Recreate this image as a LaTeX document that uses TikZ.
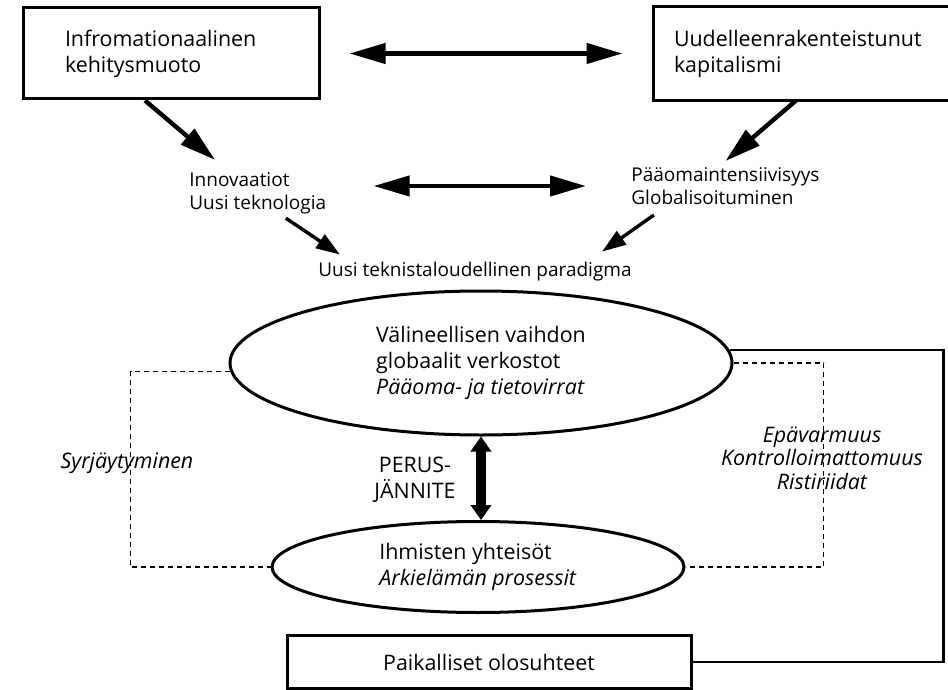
\documentclass[tikz,border=0pt]{standalone}
\usepackage{fontspec}
\setmainfont{Open Sans}
\usetikzlibrary{arrows.meta,shapes.geometric}

\tikzset{
    laatikko/.style={draw, line width=1.5pt, align=left, minimum height=45.5pt, font=\fontsize{10.7}{13}\selectfont},
    iso/.style={font=\fontsize{10.7}{13}\selectfont},
    pieni/.style={font=\fontsize{9.5}{11.5}\selectfont, align=left, inner sep=2pt},
    soikio/.style={draw, ellipse, line width=1.5pt, align=left, inner sep=0pt, font=\fontsize{10.7}{13}\selectfont},
    nuoli/.style={line width=2.2pt, >={Triangle[length=18pt,width=10pt]}},
    pikkunuoli/.style={line width=1.7pt, >={Triangle[length=12pt,width=8pt]}},
    paksu/.style={line width=5pt, >={Triangle[length=7.5pt,width=10pt]}},
    katko/.style={line width=0.6pt, dash pattern=on 2.5pt off 2pt}
}

\begin{document}
\begin{tikzpicture}[x=0.5pt, y=-0.5pt]
        \useasboundingbox (0,0) rectangle (948,690);

        % Laatikot
        \node[laatikko, inner xsep=21pt, text width=106pt] (info) at (171,53.5) {Infromationaalinen\\kehitysmuoto};
        \node[laatikko, draw=none, inner xsep=9.5pt, text width=143.5pt] (kapit) at (817.5,53.5) {Uudelleenrakenteistunut\\kapitalismi};
        \draw[line width=1.5pt] (kapit.north east) -- (kapit.north west) -- (kapit.south west) -- (kapit.south east);

        % Välitasot
        \node[pieni, anchor=west] (innov) at (185,193) {Innovaatiot\\Uusi teknologia};
        \node[pieni, anchor=west] (paaoma) at (627,186) {Pääomaintensiivisyys\\Globalisoituminen};
        \node[pieni] (paradigma) at (475,272) {Uusi teknistaloudellinen paradigma};

        % Soikiot
        \node[soikio, minimum width=251pt, minimum height=72pt] (verkot) at (481,363) {Välineellisen vaihdon\\globaalit verkostot\\\textit{Pääoma- ja tietovirrat}};
        \node[soikio, minimum width=206pt, minimum height=45.5pt] (yhteisot) at (478,567) {Ihmisten yhteisöt\\\textit{Arkielämän prosessit}};
        \node[laatikko, minimum width=202pt, minimum height=26.5pt, align=center] (paikalliset) at (489,662) {Paikalliset olosuhteet};

        % Tekstit
        \node[iso, align=center] (perus) at (415,480) {PERUS-\\JÄNNITE};
        \node[iso] (syrj) at (127,463) {\textit{Syrjäytyminen}};
        \node[align=center, font=\fontsize{10.7}{11.75}\selectfont\itshape] (epav) at (822,458) {Epävarmuus\\Kontrolloimattomuus\\Ristiriidat};

        % Nuolet
        \draw[nuoli, <->, shorten <=14.5pt, shorten >=15.5pt] (info.east) -- (kapit.west);
        \draw[nuoli, <->, shorten <=21.5pt, shorten >=20.5pt] (innov.east |- paaoma.west) -- (paaoma.west);
        \draw[nuoli, ->] ([xshift=-13pt]info.south) -- ([shift={(15pt,4pt)}]innov.north west);
        \draw[nuoli, ->] ([xshift=-10.75pt]kapit.south) -- ([yshift=1pt]paaoma.north);
        \draw[pikkunuoli, ->] ([xshift=14pt]innov.south) -- ([shift={(13pt,1.75pt)}]paradigma.north west);
        \draw[pikkunuoli, ->] ([shift={(-35.75pt,-3pt)}]paaoma.south) -- ([shift={(-17pt,3.25pt)}]paradigma.north east);
        \draw[paksu, <->] (verkot.south) -- (verkot.south |- yhteisot.north);

        % Yhteydet
        \draw[katko] (verkot.182) -| ([xshift=-70pt]yhteisot.west) -- (yhteisot.west);
        \draw[katko] (verkot.east) -| ([xshift=69pt]yhteisot.east) -- (yhteisot.east);
        \draw[line width=1.2pt] (verkot.3.5) -| ([xshift=125.5pt]paikalliset.east) -- (paikalliset.east);
\end{tikzpicture}
\end{document}
